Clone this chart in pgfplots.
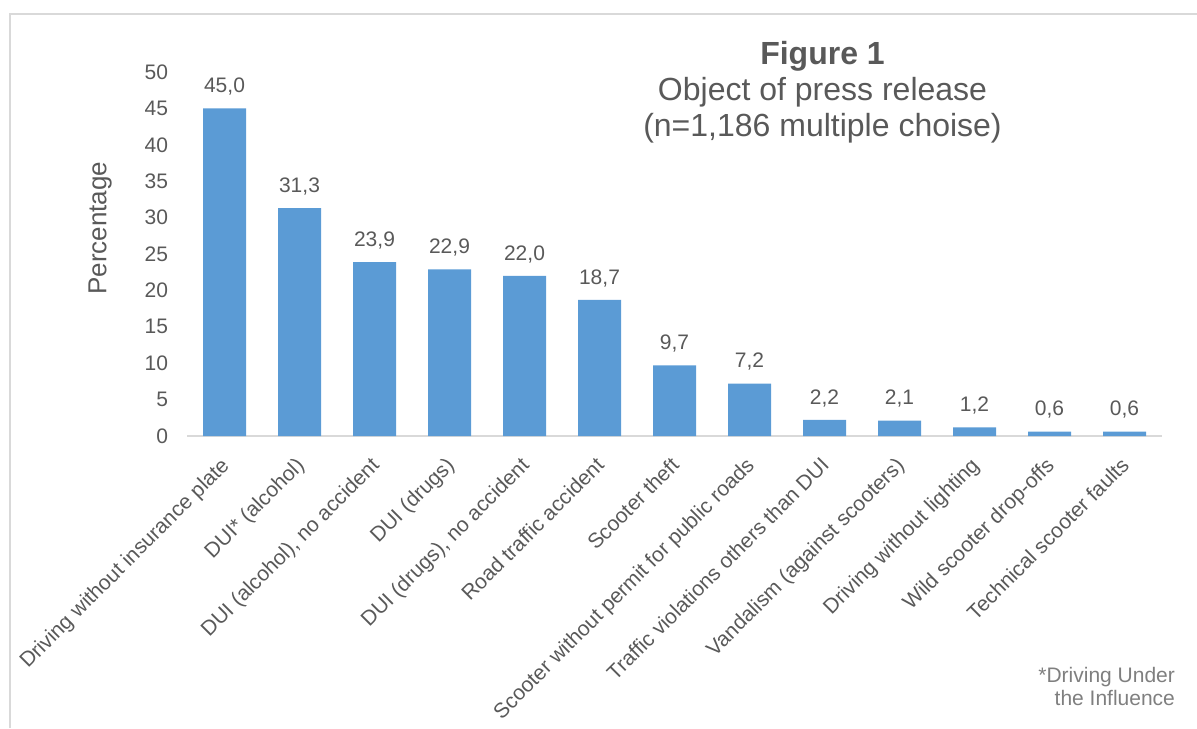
\documentclass[border=0pt]{standalone}
\usepackage{pgfplots}
\pgfplotsset{compat=1.18}
\usepackage{fontspec}
\setmainfont{Liberation Sans}
\definecolor{barblue}{HTML}{5B9BD5}
\definecolor{txt}{HTML}{595959}
\definecolor{axgray}{HTML}{D9D9D9}
\definecolor{foot}{HTML}{7F7F7F}
\begin{document}
\begin{tikzpicture}
\path[use as bounding box] (0,0) rectangle (598.5pt,364pt);
\draw[axgray, line width=1pt] (5pt,0) -- (5pt,357pt) -- (598.5pt,357pt);
\begin{axis}[
  at={(93.5pt,146pt)}, anchor=south west,
  scale only axis, width=487.5pt, height=182pt,
  xmin=-0.5, xmax=12.5, ymin=0, ymax=50,
  axis x line*=bottom, axis y line*=left,
  x axis line style={draw=axgray, line width=1pt, -},
  y axis line style={draw=none},
  major tick length=0pt,
  ytick={0,5,...,50},
  xtick={0,...,12},
  xticklabels={Driving without insurance plate, DUI* (alcohol), {DUI (alcohol), no accident}, DUI (drugs), {DUI (drugs), no accident}, Road traffic accident, Scooter theft, Scooter without permit for public roads, Traffic violations others than DUI, Vandalism (against scooters), Driving without lighting, Wild scooter drop-offs, Technical scooter faults},
  /pgf/number format/assume math mode=true,
  tick label style={font=\fontsize{10.5}{12}\selectfont, text=txt},
  yticklabel style={xshift=-6pt},
  xticklabel style={xshift=-2.5pt, yshift=-5pt, rotate=45, anchor=north east},
  ylabel={Percentage},
  ylabel style={font=\fontsize{13}{15}\selectfont, text=txt, at={(axis description cs:-0.089,0.571)}, anchor=center, rotate=0},
  ybar, bar width=21.5pt,
  nodes near coords,
  every node near coord/.append style={font=\fontsize{10.5}{12}\selectfont, text=txt, yshift=3pt,
    /pgf/number format/.cd, fixed, fixed zerofill, precision=1, use comma, assume math mode=true},
]
\addplot[fill=barblue, draw=none] coordinates {
(0,45.0) (1,31.3) (2,23.9) (3,22.9) (4,22.0) (5,18.7) (6,9.7) (7,7.2) (8,2.2) (9,2.1) (10,1.2) (11,0.6) (12,0.6)};
\end{axis}
\node[align=center, text=txt, font=\fontsize{16}{18}\selectfont] at (411.25pt,318pt) {\textbf{Figure 1}\\Object of press release\\(n=1,186 multiple choise)};
\node[align=right, anchor=east, text=foot, font=\fontsize{10.5}{11.5}\selectfont] at (591pt,21pt) {*Driving Under\\the Influence};
\end{tikzpicture}
\end{document}
